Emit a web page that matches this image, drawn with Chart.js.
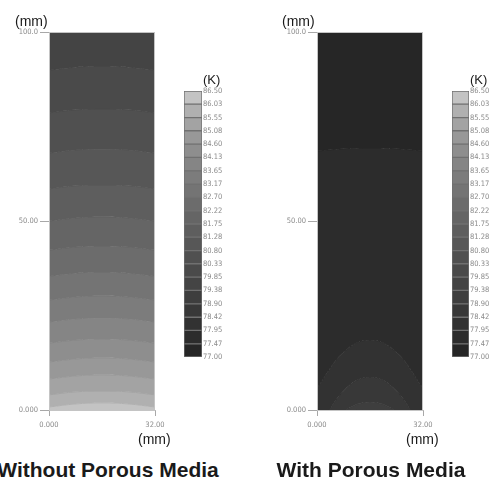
<!DOCTYPE html>
<html>
<head>
<meta charset="utf-8">
<script src="https://cdn.jsdelivr.net/npm/chart.js@4.4.0/dist/chart.umd.min.js"></script>
<style>
  html, body { margin: 0; padding: 0; background: #fff; overflow: hidden; }
  body { position: relative; width: 495px; height: 481px; font-family: "Liberation Sans", Arial, sans-serif; }
  canvas, .lbl { position: absolute; }
  .lbl { line-height: 1; color: #1a1a1a; white-space: nowrap; }
  .unit { font-size: 14px; }
  .title { font-size: 21px; font-weight: bold; text-align: center; width: 242px; }
</style>
</head>
<body>
<canvas id="leftPlot" style="left:0px;top:0px;width:172px;height:440px" width="172" height="440"></canvas>
<canvas id="leftBar" style="left:170px;top:70px;width:61px;height:300px" width="61" height="300"></canvas>
<canvas id="rightPlot" style="left:268px;top:0px;width:172px;height:440px" width="172" height="440"></canvas>
<canvas id="rightBar" style="left:438px;top:70px;width:60px;height:300px" width="60" height="300"></canvas>

<div class="lbl unit" style="left:15px;top:14px">(mm)</div>
<div class="lbl unit" style="left:138px;top:432px">(mm)</div>
<div class="lbl unit" style="left:203px;top:73px;font-size:13px">(K)</div>
<div class="lbl unit" style="left:282px;top:14px">(mm)</div>
<div class="lbl unit" style="left:406px;top:432px">(mm)</div>
<div class="lbl unit" style="left:470px;top:73px;font-size:13px">(K)</div>
<div class="lbl title" style="left:-13px;top:459px">Without Porous Media</div>
<div class="lbl title" style="left:250px;top:459px">With Porous Media</div>

<script>
// colour levels (K), bottom to top of the colour bar
const levels = [77.00, 77.47, 77.95, 78.42, 78.90, 79.38, 79.85, 80.33, 80.80, 81.28,
  81.75, 82.22, 82.70, 83.17, 83.65, 84.13, 84.60, 85.08, 85.55, 86.03, 86.50];
const levelGrays = [38, 44, 50, 56, 62, 68, 74, 80, 87, 94,
  101, 108, 116, 124, 133, 142, 152, 163, 176, 195];

// axes (mm)
const xTicks = [0, 32];
const yTicks = [0, 50, 100];
const xPts = [0, 8, 16, 24, 32];

// contour lines, top to bottom: y (mm) at each xPts
const leftLines = [
  [100, 100, 100, 100, 100],
  [89.9, 90.7, 91.0, 90.7, 89.9],
  [78.6, 79.4, 79.6, 79.4, 78.6],
  [68.0, 68.8, 69.0, 68.8, 68.0],
  [58.5, 59.3, 59.5, 59.3, 58.5],
  [50.0, 50.8, 51.1, 50.8, 50.0],
  [42.3, 43.1, 43.4, 43.1, 42.3],
  [35.4, 36.2, 36.5, 36.2, 35.4],
  [29.1, 29.9, 30.2, 29.9, 29.1],
  [23.3, 24.1, 24.3, 24.1, 23.3],
  [17.7, 18.5, 18.8, 18.5, 17.7],
  [12.7, 13.5, 13.8, 13.5, 12.7],
  [8.2, 9.0, 9.3, 9.0, 8.2],
  [4.0, 4.8, 5.0, 4.8, 4.0],
  [0.8, 1.6, 1.9, 1.6, 0.8],
  [0, 0, 0, 0, 0]
];
// level index of each band between consecutive lines
const leftBands = [5, 6, 7, 8, 9, 10, 11, 12, 13, 14, 15, 16, 17, 18, 19];

const rightLines = [
  [100, 100, 100, 100, 100],
  [68.5, 69.1, 69.3, 69.1, 68.5],
  [5.8, 15.3, 18.5, 15.3, 5.8],
  [-6, 5.0, 8.7, 5.0, -6],
  [-8, -0.5, 2.1, -0.5, -8],
  [0, 0, 0, 0, 0]
];
const rightBands = [0, 1, 2, 3, 4];

function gray(i) {
  const g = levelGrays[i];
  return "rgb(" + g + "," + g + "," + g + ")";
}

const tickFont = { family: "'Liberation Sans Narrow', 'DejaVu Sans Condensed', Arial, sans-serif", size: 7.5 };

const frame = {
  id: "frame",
  afterDatasetsDraw(chart) {
    const a = chart.chartArea, ctx = chart.ctx;
    ctx.save();
    ctx.strokeStyle = "#c4c4c4";
    ctx.lineWidth = 1;
    ctx.strokeRect(a.left + 0.5, a.top + 0.5, a.right - a.left - 1, a.bottom - a.top);
    ctx.restore();
  }
};

function contourChart(id, lines, bands) {
  const datasets = lines.map((ys, i) => {
    const col = i === 0 ? gray(bands[0]) : gray(bands[i - 1]);
    return {
      data: ys.map((y, j) => ({ x: xPts[j], y: y })),
      borderColor: col,
      backgroundColor: col,
      borderWidth: 1,
      pointRadius: 0,
      tension: 0.4,
      fill: i === 0 ? false : "-1"
    };
  });
  new Chart(document.getElementById(id), {
    type: "line",
    data: { datasets: datasets },
    options: {
      responsive: false,
      animation: false,
      events: [],
      layout: { padding: { top: 32, right: 17, left: 0, bottom: 0 } },
      plugins: { legend: { display: false }, tooltip: { enabled: false } },
      scales: {
        x: {
          type: "linear", min: 0, max: 32,
          afterBuildTicks: (s) => { s.ticks = xTicks.map(v => ({ value: v })); },
          afterFit: (s) => { s.height = 30; },
          border: { color: "#b8b8b8" },
          grid: { drawOnChartArea: false, tickLength: 6, color: "#a8a8a8" },
          ticks: { color: "#8a8a8a", font: tickFont, padding: 5, maxRotation: 0,
            callback: (v) => Number(v).toPrecision(4) }
        },
        y: {
          type: "linear", min: 0, max: 100,
          afterBuildTicks: (s) => { s.ticks = yTicks.map(v => ({ value: v })); },
          afterFit: (s) => { s.width = 49; },
          border: { color: "#b8b8b8" },
          grid: { drawOnChartArea: false, tickLength: 9, color: "#a8a8a8" },
          ticks: { color: "#8a8a8a", font: tickFont, padding: 2,
            callback: (v) => Number(v).toPrecision(4) }
        }
      }
    },
    plugins: [frame]
  });
}

function colorBar(id) {
  const datasets = [];
  for (let i = 0; i < levels.length - 1; i++) {
    datasets.push({
      data: [[levels[i], levels[i + 1]]],
      backgroundColor: gray(i),
      borderColor: "#707070",
      borderWidth: 1,
      borderSkipped: false,
      grouped: false,
      barPercentage: 1,
      categoryPercentage: 1
    });
  }
  new Chart(document.getElementById(id), {
    type: "bar",
    data: { labels: [""], datasets: datasets },
    options: {
      responsive: false,
      animation: false,
      events: [],
      layout: { padding: { top: 21, left: 14, right: 0, bottom: 13 } },
      plugins: { legend: { display: false }, tooltip: { enabled: false } },
      scales: {
        x: { display: false },
        y: {
          position: "right",
          min: levels[0], max: levels[levels.length - 1],
          afterBuildTicks: (s) => { s.ticks = levels.map(v => ({ value: v })); },
          afterFit: (s) => { s.width = 29; },
          border: { display: false },
          grid: { display: false, drawTicks: false },
          ticks: { color: "#8a8a8a", font: tickFont, padding: 1, autoSkip: false,
            callback: (v) => Number(v).toFixed(2) }
        }
      }
    }
  });
}

contourChart("leftPlot", leftLines, leftBands);
contourChart("rightPlot", rightLines, rightBands);
colorBar("leftBar");
colorBar("rightBar");
</script>
</body>
</html>
